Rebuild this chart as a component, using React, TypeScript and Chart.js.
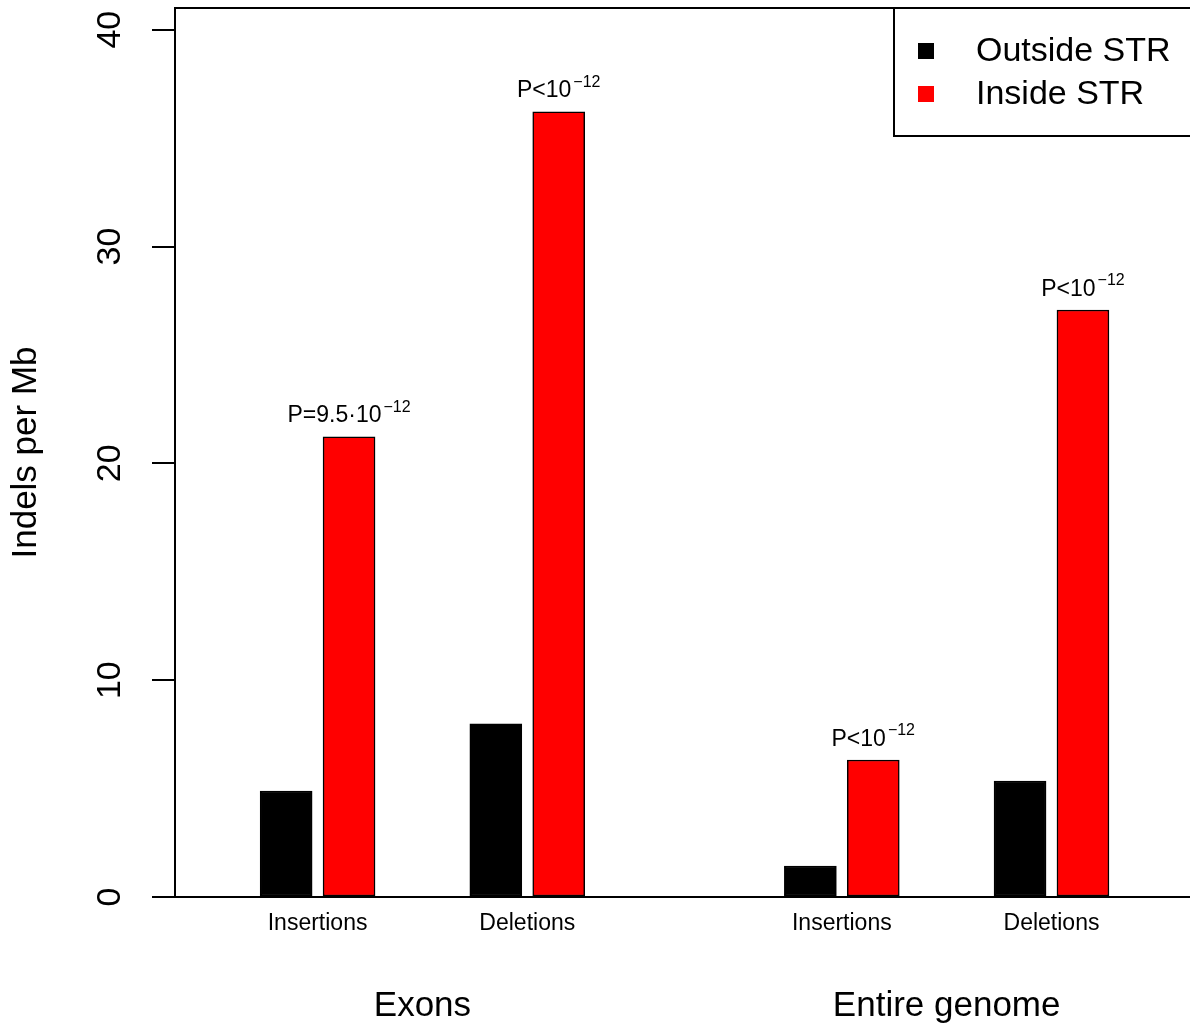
import React, { useEffect, useRef } from 'react';
import { Chart, registerables } from 'chart.js';

Chart.register(...registerables);

// ---- data ----
const categories = ['Insertions', 'Deletions', 'Insertions', 'Deletions'];
const groupLabels = ['Exons', 'Entire genome'];
const seriesNames = ['Outside STR', 'Inside STR'];
const seriesColors = ['#000000', '#ff0000'];
const outsideSTR = [4.89, 7.99, 1.43, 5.35];
const insideSTR = [21.22, 36.21, 6.32, 27.07];
const pLabelMain = ['P=9.5\u00B710', 'P<10', 'P<10', 'P<10'];
const pLabelExp = ['\u221212', '\u221212', '\u221212', '\u221212'];
const yTicks = [0, 10, 20, 30, 40];

// ---- layout ----
const FONT = '"Liberation Sans", Arial, Helvetica, sans-serif';
const W = 1194;
const H = 1024;
const X_MAX = 19.4;
const Y_MAX = 41;
const FIRST = 2.72;
const STEP = 4;
const GROUP_GAP = 2;
const HALF = 0.6;
const slot = (i: number) => FIRST + i * STEP + Math.floor(i / 2) * GROUP_GAP;

const framePlugin = {
  id: 'frame',
  afterDraw(chart: any) {
    const { ctx, chartArea: ca, scales } = chart;
    ctx.save();
    ctx.strokeStyle = '#000';
    ctx.lineWidth = 2;
    // top and right of box
    ctx.beginPath();
    ctx.moveTo(ca.left - 1, ca.top);
    ctx.lineTo(ca.right, ca.top);
    ctx.lineTo(ca.right, ca.bottom);
    ctx.stroke();
    // baseline extension to the left
    const y0 = scales.y.getPixelForValue(0);
    ctx.beginPath();
    ctx.moveTo(ca.left - 23, y0);
    ctx.lineTo(ca.left, y0);
    ctx.stroke();

    // p-value labels above red bars
    const meta = chart.getDatasetMeta(1);
    meta.data.forEach((el: any, i: number) => {
      const main = pLabelMain[i];
      const exp = pLabelExp[i];
      ctx.font = `23px ${FONT}`;
      const wMain = ctx.measureText(main).width;
      ctx.font = `16px ${FONT}`;
      const wExp = ctx.measureText(exp).width;
      const total = wMain + 2 + wExp;
      const sx = el.x - total / 2;
      const base = el.y - 14.4;
      ctx.fillStyle = '#000';
      ctx.textAlign = 'left';
      ctx.textBaseline = 'alphabetic';
      ctx.font = `23px ${FONT}`;
      ctx.fillText(main, sx, base);
      ctx.font = `16px ${FONT}`;
      ctx.fillText(exp, sx + wMain + 2, base - 10.6);
    });

    // group labels
    ctx.font = `35px ${FONT}`;
    ctx.textAlign = 'center';
    ctx.textBaseline = 'alphabetic';
    ctx.fillStyle = '#000';
    groupLabels.forEach((g, gi) => {
      const mid = (slot(2 * gi) + slot(2 * gi + 1)) / 2;
      ctx.fillText(g, scales.x.getPixelForValue(mid), 1015.5);
    });

    // legend
    const lx = 894;
    const lBottom = 136;
    ctx.fillStyle = '#fff';
    ctx.fillRect(lx, ca.top, 400, lBottom - ca.top);
    ctx.strokeStyle = '#000';
    ctx.lineWidth = 2;
    ctx.strokeRect(lx, ca.top, 400, lBottom - ca.top);
    const ds = chart.data.datasets;
    ctx.font = `34px ${FONT}`;
    ctx.textAlign = 'left';
    ctx.textBaseline = 'middle';
    ds.forEach((d: any, i: number) => {
      const cy = 51 + i * 43;
      ctx.fillStyle = d.backgroundColor;
      ctx.fillRect(918, cy - 8, 16, 16);
      ctx.fillStyle = '#000';
      ctx.fillText(d.label, 976, cy + 1);
    });
    ctx.restore();
  },
};

export default function App() {
  const ref = useRef<HTMLCanvasElement | null>(null);

  useEffect(() => {
    if (!ref.current) return;
    Chart.defaults.font.family = FONT;
    Chart.defaults.color = '#000';
    const chart = new Chart(ref.current, {
      type: 'bar',
      data: {
        datasets: [
          {
            label: seriesNames[0],
            data: outsideSTR.map((v, i) => ({ x: slot(i) - HALF, y: v })),
            backgroundColor: seriesColors[0],
            borderColor: '#000',
            borderWidth: 1.5,
            borderSkipped: false,
            barThickness: 52,
            grouped: false,
          } as any,
          {
            label: seriesNames[1],
            data: insideSTR.map((v, i) => ({ x: slot(i) + HALF, y: v })),
            backgroundColor: seriesColors[1],
            borderColor: '#000',
            borderWidth: 1.5,
            borderSkipped: false,
            barThickness: 52,
            grouped: false,
          } as any,
        ],
      },
      options: {
        animation: false,
        responsive: false,
        devicePixelRatio: 1,
        layout: { padding: { top: 8, right: 2, left: 0, bottom: 0 } },
        plugins: { legend: { display: false }, tooltip: { enabled: false } },
        scales: {
          x: {
            type: 'linear',
            min: 0,
            max: X_MAX,
            offset: false,
            grid: { display: false, drawTicks: false, tickLength: 0 },
            border: { display: true, color: '#000', width: 2 },
            afterBuildTicks: (s: any) => {
              s.ticks = categories.map((_, i) => ({ value: slot(i) }));
            },
            ticks: {
              autoSkip: false,
              maxRotation: 0,
              minRotation: 0,
              padding: 13,
              font: { size: 23, family: FONT },
              color: '#000',
              callback: (_v: any, i: number) => categories[i],
            },
            afterFit: (s: any) => {
              s.height = 127;
              s.paddingLeft = 0;
              s.paddingRight = 0;
            },
          },
          y: {
            type: 'linear',
            min: 0,
            max: Y_MAX,
            afterBuildTicks: (s: any) => {
              s.ticks = yTicks.map((v) => ({ value: v }));
            },
            grid: {
              display: true,
              drawOnChartArea: false,
              drawTicks: true,
              tickLength: 23,
              lineWidth: 2,
              tickWidth: 2,
              tickColor: '#000',
              color: '#000',
            },
            border: { display: true, color: '#000', width: 2 },
            ticks: {
              minRotation: 90,
              maxRotation: 90,
              crossAlign: 'center',
              padding: 22,
              font: { size: 34, family: FONT },
              color: '#000',
              callback: (v: any) => String(v),
            },
            title: {
              display: true,
              text: 'Indels per Mb',
              font: { size: 35, family: FONT },
              color: '#000',
              padding: { top: 5, bottom: 0 },
            },
            afterFit: (s: any) => {
              s.width = 175;
              s.paddingTop = 0;
              s.paddingBottom = 0;
            },
          },
        },
      } as any,
      plugins: [framePlugin],
    });
    return () => chart.destroy();
  }, []);

  return (
    <div
      style={{
        position: 'absolute',
        left: 0,
        top: 0,
        width: 1190,
        height: 1024,
        overflow: 'hidden',
        background: '#fff',
      }}
    >
      <canvas ref={ref} width={W} height={H} style={{ display: 'block', width: W, height: H }} />
    </div>
  );
}
